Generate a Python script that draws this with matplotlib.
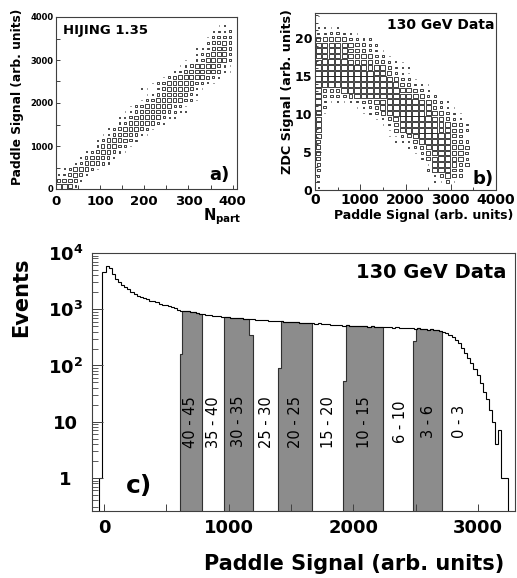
import numpy as np
import matplotlib.pyplot as plt
from matplotlib.patches import Rectangle
from matplotlib.collections import PatchCollection
from matplotlib.ticker import MultipleLocator, FixedLocator

plt.rcParams['font.family'] = 'DejaVu Sans'
plt.rcParams['font.weight'] = 'bold'

W, H = 517, 578

# ---- panel a: HIJING, Npart vs paddle signal (box size 1-9 per cell)
a_xbin = 12.5
a_ybin = 4000 / 30
# (row, first column, box sizes)
a_rows = [
    (0, 0, "9973"), (1, 0, "57752"), (2, 0, "136762"), (3, 1, "2477631"),
    (4, 3, "24777531"), (5, 4, "2477642"), (6, 5, "13677531"),
    (7, 6, "13677531"), (8, 7, "24777642"), (9, 8, "135777421"),
    (10, 9, "246777531"), (11, 10, "13577776421"), (12, 11, "12467777421"),
    (13, 12, "135777765421"), (14, 13, "13577777431"),
    (15, 15, "13577777531"), (16, 16, "1357777642"),
    (17, 15, "110357777531"), (18, 17, "135777765421"),
    (19, 19, "13577777642"), (20, 21, "13577777531"),
    (21, 22, "1357777531"), (22, 23, "113577774"), (23, 25, "1357774"),
    (24, 25, "1235774"), (25, 26, "135575"), (26, 27, "13553"),
    (27, 28, "2324"), (28, 29, "12"),
]

# ---- panel b: ZDC vs paddle signal, 130 GeV data
b_xbin = 4000 / 28
b_ybin = 0.75
b_rows = [
    (0, 0, "2"), (1, 0, "3000000000000000001151"),
    (2, 0, "40000000000000000015955"),
    (3, 0, "500000000000000004899551"),
    (4, 0, "500000000000000001899866"),
    (5, 0, "600000000000000036899874"),
    (6, 0, "600000000000000136899875"),
    (7, 0, "700000000000001368999876"),
    (8, 0, "700000000000112689999654"),
    (9, 0, "80000000000113689999964"),
    (10, 0, "800000000001689999988653"),
    (11, 0, "800000000013689999988642"),
    (12, 0, "80000000012689999988642"),
    (13, 0, "810000012468999998864210"),
    (14, 0, "9400001246889999886421"),
    (15, 0, "931111245789999988641"),
    (16, 0, "94545699999999887431"),
    (17, 0, "955599999999988642"),
    (18, 0, "999999999999875321"),
    (19, 0, "9999999999987531"),
    (20, 0, "999999999887421"),
    (21, 0, "999999998886321"),
    (22, 0, "89999888765321"),
    (23, 0, "888888877431"),
    (24, 0, "88888776431"),
    (25, 0, "8888876543"),
    (26, 0, "777765432"),
    (27, 0, "3344331"),
    (28, 0, "1111"),
    (30, 0, "1"),
]

# ---- panel c: paddle signal distribution (first bin starts at -37.5)
c_binw = 25
c_start = -37.5
c_counts = [
    1, 4600, 5800, 5400, 4300, 3500, 3100, 2700, 2450, 2250, 2050, 1850, 1750,
    1650, 1580, 1500, 1430, 1390, 1330, 1260, 1200, 1170, 1120, 1080, 1050,
    975, 950, 935, 920, 900, 880, 860, 835, 820, 800, 790, 765, 760, 745, 740, 725,
    720, 705, 700, 690, 695, 680, 670, 680, 660, 655, 650, 640, 645, 630, 620, 625,
    615, 610, 600, 605, 595, 585, 590, 575, 570, 575, 565, 560, 555, 560, 545, 540,
    545, 535, 525, 530, 515, 510, 520, 505, 500, 510, 500, 495, 505, 490, 495, 485,
    490, 480, 485, 475, 480, 470, 475, 465, 470, 460, 465, 455, 450, 455, 440, 450,
    435, 440, 430, 420, 410, 395, 380, 350, 320, 285, 250, 205, 170, 135, 112, 88,
    68, 48, 34, 25, 16, 10, 4, 7, 1, 1,
]
# shaded centrality bins and the partly filled first/last slice of each
band_lo = [609, 962, 1397, 1918, 2480]
band_hi = [783, 1195, 1670, 2235, 2708]
sliver_lo = [609, 1165, 1397, 1918, 2480]
sliver_hi = [627, 1195, 1419, 1938, 2500]
sliver_val = [157, 355, 92, 52, 272]
cut_labels = ['40 - 45', '35 - 40', '30 - 35', '25 - 30', '20 - 25',
              '15 - 20', '10 - 15', '6 - 10', '3 - 6', '0 - 3']
cut_label_x = [695, 877, 1077, 1305, 1532, 1799, 2093, 2374, 2601, 2850]


def px(x0, y0, w, h):
    return [x0 / W, 1 - (y0 + h) / H, w / W, h / H]


def draw_boxes(ax, rows, xbin, ybin):
    boxes = []
    for r, c0, s in rows:
        for k, ch in enumerate(s):
            d = int(ch)
            if d == 0:
                continue
            f = d / 9 * 0.85
            xc = (c0 + k + 0.5) * xbin
            yc = (r + 0.5) * ybin
            boxes.append(Rectangle((xc - f * xbin / 2, yc - f * ybin / 2),
                                   f * xbin, f * ybin))
    ax.add_collection(PatchCollection(boxes, facecolor='none',
                                      edgecolor='#222222', linewidth=0.6))


def frame(ax):
    for s in ax.spines.values():
        s.set_color('#404040')
        s.set_linewidth(0.8)


fig = plt.figure(figsize=(W / 100, H / 100), dpi=100)

# ------------------ a
ax = fig.add_axes(px(56, 17, 181, 172))
draw_boxes(ax, a_rows, a_xbin, a_ybin)
ax.set_xlim(0, 410)
ax.set_ylim(0, 4000)
ax.xaxis.set_major_locator(MultipleLocator(100))
ax.xaxis.set_minor_locator(MultipleLocator(50))
ax.yaxis.set_major_locator(MultipleLocator(1000))
ax.yaxis.set_minor_locator(MultipleLocator(500))
ax.tick_params(which='both', direction='in', length=3, width=0.7, color='#404040')
ax.tick_params(axis='x', labelsize=9.5, pad=4)
ax.tick_params(axis='y', labelsize=6, pad=2)
frame(ax)
ax.text(0.04, 0.96, 'HIJING 1.35', transform=ax.transAxes, fontsize=9.5,
        va='top', ha='left')
ax.text(0.905, 0.08, 'a)', transform=ax.transAxes, fontsize=13, ha='center', va='center')
fig.text(203 / W, 1 - 220 / H, r'$\mathbf{N}_{\mathbf{part}}$', fontsize=10.5,
         ha='left', va='baseline')
fig.text(18 / W, 1 - 97 / H, 'Paddle Signal (arb. units)', rotation=90,
         fontsize=8.8, ha='center', va='center')

# ------------------ b
ax = fig.add_axes(px(315, 13, 181, 177))
draw_boxes(ax, b_rows, b_xbin, b_ybin)
ax.set_xlim(0, 4000)
ax.set_ylim(0, 23.3)
ax.xaxis.set_major_locator(MultipleLocator(1000))
ax.xaxis.set_minor_locator(MultipleLocator(500))
ax.yaxis.set_major_locator(MultipleLocator(5))
ax.yaxis.set_minor_locator(MultipleLocator(1))
ax.tick_params(which='major', direction='in', length=4, width=0.7, color='#404040')
ax.tick_params(which='minor', direction='in', length=2, width=0.7, color='#404040')
ax.tick_params(axis='x', labelsize=10, pad=2)
ax.tick_params(axis='y', labelsize=9, pad=2)
frame(ax)
ax.text(0.99, 0.97, '130 GeV Data', transform=ax.transAxes, fontsize=10,
        va='top', ha='right')
ax.text(0.93, 0.06, 'b)', transform=ax.transAxes, fontsize=13, ha='center', va='center')
fig.text(424 / W, 1 - 215 / H, 'Paddle Signal (arb. units)', fontsize=9,
         ha='center', va='center')
fig.text(288 / W, 1 - 92 / H, 'ZDC Signal (arb. units)', rotation=90,
         fontsize=9.2, ha='center', va='center')

# ------------------ c
ax = fig.add_axes(px(92, 253, 423, 258))
counts = np.array(c_counts, dtype=float)
edges = c_start + c_binw * np.arange(len(counts) + 1)
for lo, hi, slo, shi, sv in zip(band_lo, band_hi, sliver_lo, sliver_hi, sliver_val):
    xs = np.unique(np.concatenate([[lo, hi, slo, shi],
                                   edges[(edges > lo) & (edges < hi)]]))
    mids = 0.5 * (xs[:-1] + xs[1:])
    ys = counts[((mids - edges[0]) // c_binw).astype(int)]
    ys = np.where((mids > slo) & (mids < shi), sv, ys)
    ax.fill_between(xs, np.append(ys, ys[-1]), 0.01, step='post',
                    facecolor='#8c8c8c', edgecolor='#303030', linewidth=0.8)
ax.stairs(counts, edges, baseline=0.01, color='k', linewidth=0.8)
ax.set_yscale('log')
ax.set_xlim(-96, 3296)
ax.set_ylim(0.259, 1e4)
ax.xaxis.set_major_locator(MultipleLocator(1000))
ax.xaxis.set_minor_locator(MultipleLocator(500))
ax.yaxis.set_major_locator(FixedLocator([1, 10, 100, 1000, 10000]))
ax.set_yticklabels(['1', '10', r'$\mathbf{10^{2}}$', r'$\mathbf{10^{3}}$',
                    r'$\mathbf{10^{4}}$'])
ax.tick_params(axis='y', which='major', direction='in', length=8, width=0.7,
               color='#404040', labelsize=13, pad=19)
ax.tick_params(axis='y', which='minor', direction='in', length=4, width=0.6,
               color='#404040')
ax.tick_params(axis='x', which='both', direction='in', length=5, width=0.7,
               color='#404040', labelsize=13, pad=6)
for lbl in ax.get_yticklabels():
    lbl.set_horizontalalignment('center')
frame(ax)
for lab, x in zip(cut_labels, cut_label_x):
    ax.text(x, 10, lab, rotation=90, fontsize=10.5, fontweight='normal',
            ha='center', va='center')
ax.text(0.98, 0.96, '130 GeV Data', transform=ax.transAxes, fontsize=14,
        va='top', ha='right')
ax.text(280, 0.72, 'c)', fontsize=18, ha='center', va='center')
fig.text(354 / W, 1 - 564 / H, 'Paddle Signal (arb. units)', fontsize=15,
         ha='center', va='center')
fig.text(21 / W, 1 - 297 / H, 'Events', rotation=90, fontsize=15,
         ha='center', va='center')

fig.savefig('out.png', dpi=100)
